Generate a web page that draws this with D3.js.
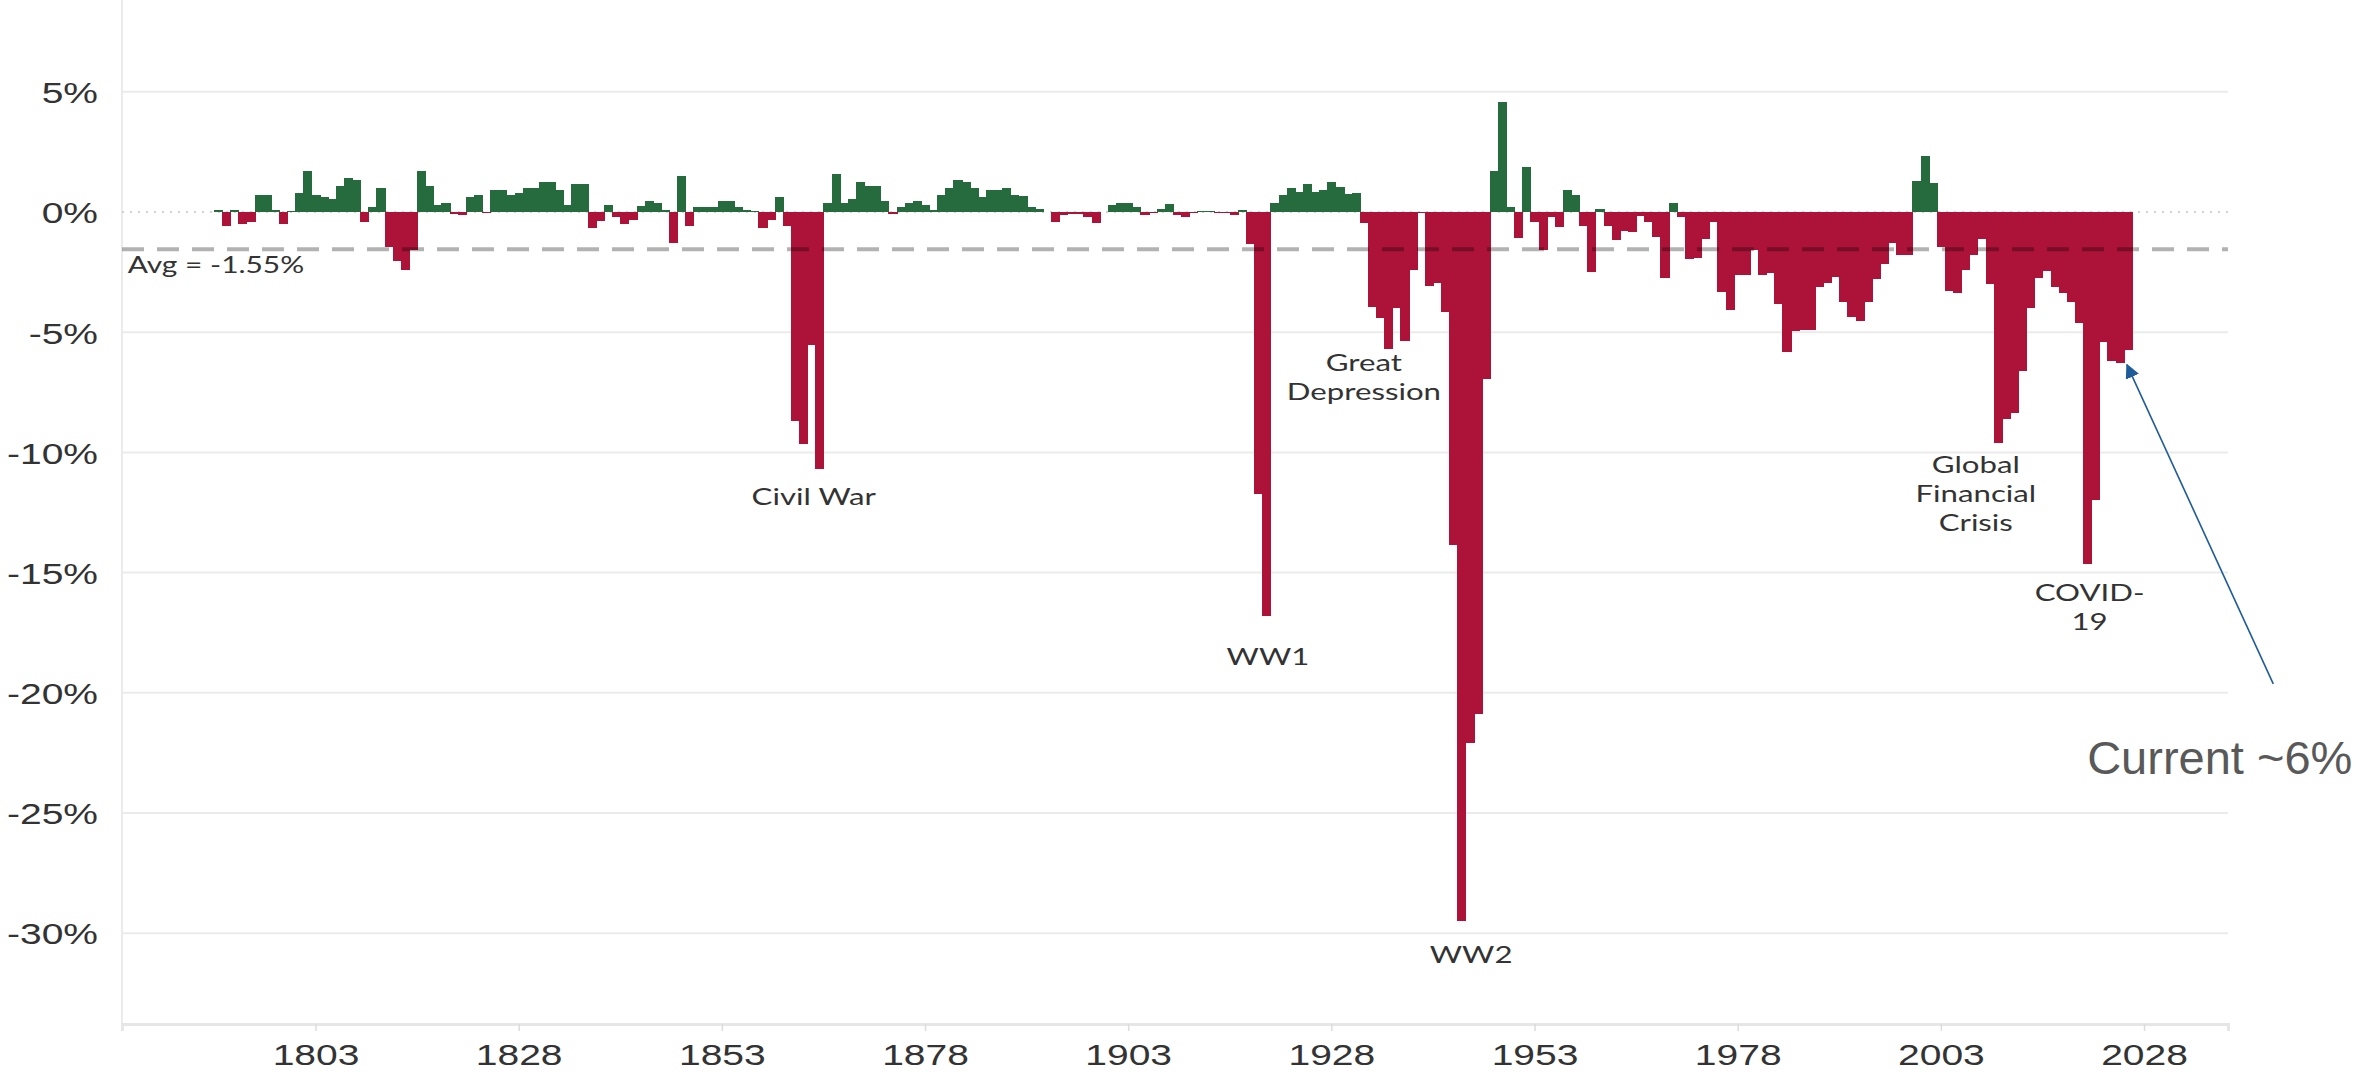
<!DOCTYPE html>
<html>
<head>
<meta charset="utf-8">
<script src="https://cdn.jsdelivr.net/npm/d3@7"></script>
<style>
  html, body { margin: 0; padding: 0; background: #fff; }
  svg { display: block; font-family: Lato, "Open Sans", sans-serif; }
</style>
</head>
<body>
<div id="chart"></div>
<script>
// federal surplus / deficit as % of GDP, one bar per year
const firstYear = 1791;
const balance1791 = [0.1, -0.58, 0.1, -0.5, -0.4, 0.72, 0.72, 0.1, -0.5, 0.04,
    0.8, 1.69, 0.72, 0.64, 0.55, 1.07, 1.41, 1.35, -0.4, 0.2,
    1.0, -1.45, -2.05, -2.43, -1.6, 1.69, 1.07, 0.28, 0.37, -0.07,
    -0.14, 0.62, 0.72, -0.05, 0.9, 0.9, 0.72, 0.8, 0.98, 0.98,
    1.25, 1.25, 0.9, 0.28, 1.16, 1.16, -0.67, -0.39, 0.28, -0.2];
const balance1841 = [-0.49, -0.35, 0.26, 0.46, 0.37, 0.1, -1.27, 1.5, -0.58, 0.2,
    0.2, 0.2, 0.46, 0.46, 0.2, 0.1, 0.03, -0.67, -0.32, 0.62,
    -0.58, -8.69, -9.66, -5.55, -10.7, 0.37, 1.6, 0.37, 0.55, 1.25,
    1.07, 1.07, 0.46, -0.07, 0.2, 0.37, 0.46, 0.28, 0.08, 0.72,
    0.98, 1.33, 1.25, 0.98, 0.62, 0.9, 0.9, 0.98, 0.72, 0.67];
const balance1891 = [0.22, 0.11, 0.02, -0.4, -0.12, -0.08, -0.08, -0.2, -0.45, 0,
    0.29, 0.39, 0.39, 0.22, -0.12, -0.06, 0.11, 0.32, -0.12, -0.2,
    -0.05, 0.03, 0.03, -0.05, -0.05, -0.12, 0.1, -1.33, -11.74, -16.8,
    0.36, 0.71, 0.98, 0.85, 1.16, 0.85, 0.92, 1.26, 1.05, 0.75,
    0.8, -0.47, -3.97, -4.4, -5.7, -4.0, -5.35, -2.41, -0.06, -3.08];
const balance1941 = [-2.94, -4.15, -13.85, -29.5, -22.1, -20.9, -6.96, 1.71, 4.59, 0.19,
    -1.1, 1.86, -0.4, -1.6, -0.22, -0.64, 0.9, 0.72, -0.58, -2.48,
    0.12, -0.58, -1.16, -0.78, -0.82, -0.17, -0.42, -1.02, -2.76, 0.37,
    -0.22, -1.97, -1.9, -1.12, -0.43, -3.31, -4.08, -2.62, -2.62, -1.58,
    -2.6, -2.54, -3.83, -5.84, -4.96, -4.9, -4.9, -3.13, -2.95, -2.7];
const balance1991 = [-3.74, -4.37, -4.53, -3.74, -2.77, -2.18, -1.3, -1.78, -1.78, 1.3,
    2.35, 1.22, -1.46, -3.3, -3.37, -2.43, -1.78, -1.12, -3.0, -9.6,
    -8.6, -8.35, -6.6, -3.98, -2.76, -2.44, -3.1, -3.37, -3.75, -4.6,
    -14.65, -12.0, -5.42, -6.18, -6.28, -5.72];

const avgBalance = -1.55;
const xTickYears = [1803, 1828, 1853, 1878, 1903, 1928, 1953, 1978, 2003, 2028];
const yTickValues = [5, 0, -5, -10, -15, -20, -25, -30];

const eventLabels = [
    { lines: ["Civil War"], year: 1864.3, value: -12.2 },
    { lines: ["WW1"], year: 1920.2, value: -18.85 },
    { lines: ["Great", "Depression"], year: 1932.0, value: -6.6 },
    { lines: ["WW2"], year: 1945.2, value: -31.25 },
    { lines: ["Global", "Financial", "Crisis"], year: 2007.3, value: -10.85 },
    { lines: ["COVID-", "19"], year: 2021.3, value: -16.2 }
];

const allBalances = [].concat(balance1791, balance1841, balance1891, balance1941, balance1991);
const data = allBalances.map((v, i) => ({ year: firstYear + i, value: v }));

const W = 2356, H = 1081;
const plot = { left: 122, right: 2228, top: 0, bottom: 1024 };
const sx = 1.3; // source chart text is stretched sideways

const svg = d3.select("#chart").append("svg")
    .attr("width", W).attr("height", H);

const x = d3.scaleLinear().domain([1779.19, 2038.33]).range([plot.left, plot.right]);
const y = d3.scaleLinear().domain([-33.78, 8.82]).range([plot.bottom, plot.top]);

// grid
svg.append("g")
    .selectAll("line")
    .data(yTickValues.filter(d => d !== 0))
    .join("line")
    .attr("x1", plot.left).attr("x2", plot.right)
    .attr("y1", d => y(d)).attr("y2", d => y(d))
    .attr("stroke", "#ebebeb").attr("stroke-width", 2);

svg.append("line")
    .attr("x1", plot.left).attr("x2", plot.left)
    .attr("y1", plot.top).attr("y2", plot.bottom)
    .attr("stroke", "#ebebeb").attr("stroke-width", 2);

// bottom axis
const xAxis = svg.append("g")
    .attr("transform", `translate(0,${plot.bottom})`)
    .call(d3.axisBottom(x).tickValues(xTickYears).tickFormat(d3.format("d")).tickSize(7).tickPadding(13));
xAxis.select(".domain").attr("stroke", "#e6e6e6").attr("stroke-width", 3);
xAxis.selectAll(".tick line").attr("stroke", "#dcdcdc").attr("stroke-width", 1.5);
xAxis.selectAll(".tick text")
    .attr("fill", "#333")
    .style("font-size", "30px")
    .attr("transform", `scale(${sx},1)`);

// y axis labels
const yAxis = svg.append("g")
    .attr("transform", "translate(98,0)")
    .call(d3.axisLeft(y).tickValues(yTickValues).tickFormat(d => d + "%").tickSize(0).tickPadding(0));
yAxis.select(".domain").remove();
yAxis.selectAll(".tick text")
    .attr("fill", "#333")
    .attr("x", 0)
    .attr("dy", "0.36em")
    .style("font-size", "30px")
    .attr("transform", `scale(${sx},1)`);

// zero line (dotted)
svg.append("line")
    .attr("x1", plot.left).attr("x2", plot.right)
    .attr("y1", y(0)).attr("y2", y(0))
    .attr("stroke", "#c4c4c4").attr("stroke-width", 1.5)
    .attr("stroke-dasharray", "2,6");

// bars - a hair wider than a year so neighbours touch without seams
const barW = x(1) - x(0);
svg.append("g")
    .attr("shape-rendering", "crispEdges")
    .selectAll("rect")
    .data(data)
    .join("rect")
    .attr("x", d => x(d.year - 0.5))
    .attr("width", barW + 1)
    .attr("y", d => y(Math.max(0, d.value)))
    .attr("height", d => Math.abs(y(d.value) - y(0)))
    .attr("fill", d => d.value >= 0 ? "#266b3e" : "#ad1339");

// average line, drawn translucent over the bars
svg.append("line")
    .attr("x1", plot.left).attr("x2", plot.right)
    .attr("y1", y(avgBalance)).attr("y2", y(avgBalance))
    .attr("stroke", "#000").attr("stroke-opacity", 0.3)
    .attr("stroke-width", 4)
    .attr("stroke-dasharray", "22,13");

svg.append("text")
    .attr("transform", `translate(${x(1779.9)},${y(-2.55)}) scale(${sx},1)`)
    .attr("fill", "#333")
    .style("font-size", "23px")
    .text("Avg = " + avgBalance.toFixed(2) + "%");

// event labels
const ev = svg.append("g").selectAll("text")
    .data(eventLabels)
    .join("text")
    .attr("transform", d => `translate(${x(d.year)},${y(d.value)}) scale(${sx},1)`)
    .attr("text-anchor", "middle")
    .attr("fill", "#333")
    .style("font-size", "24px");
ev.selectAll("tspan")
    .data(d => d.lines)
    .join("tspan")
    .attr("x", 0)
    .attr("dy", (d, i) => i === 0 ? 0 : 29)
    .text(d => d);

// "current" call-out with arrow
const defs = svg.append("defs");
defs.append("marker")
    .attr("id", "head")
    .attr("viewBox", "0 0 10 10")
    .attr("refX", 9).attr("refY", 5)
    .attr("markerWidth", 9).attr("markerHeight", 9)
    .attr("markerUnits", "strokeWidth")
    .attr("orient", "auto")
    .append("path")
    .attr("d", "M0,0 L10,5 L0,10 z")
    .attr("fill", "#1f5c99");

svg.append("line")
    .attr("x1", x(2043.9)).attr("y1", y(-19.63))
    .attr("x2", x(2025.9)).attr("y2", y(-6.36))
    .attr("stroke", "#1f5c99").attr("stroke-width", 1.6)
    .attr("marker-end", "url(#head)");

svg.append("text")
    .attr("x", x(2021.0)).attr("y", y(-23.4))
    .attr("fill", "#595959")
    .style("font-family", "'Liberation Sans', Arial, sans-serif")
    .style("font-size", "47px")
    .text("Current ~6%");
</script>
</body>
</html>
